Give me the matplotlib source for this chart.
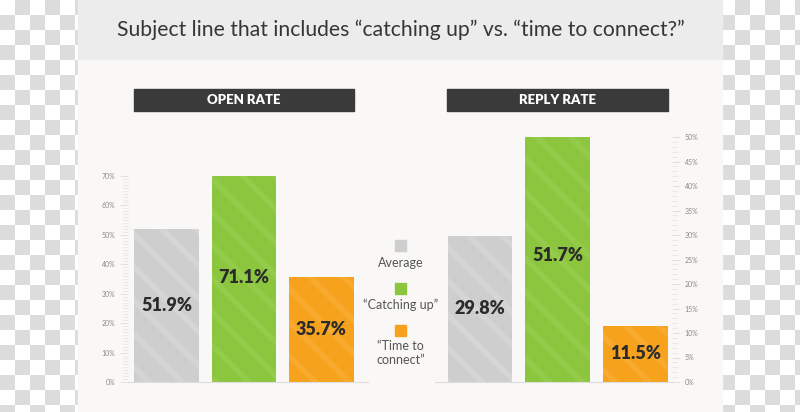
import numpy as np
import matplotlib
matplotlib.use("Agg")
import matplotlib.pyplot as plt
from matplotlib.patches import Rectangle
from matplotlib.ticker import MultipleLocator, FuncFormatter

# data
categories = ["Average", "\u201cCatching up\u201d", "\u201cTime to\nconnect\u201d"]
open_rate = [51.9, 71.1, 35.7]
reply_rate = [29.8, 51.7, 11.5]
panel_titles = ["OPEN RATE", "REPLY RATE"]
title = "Subject line that includes \u201ccatching up\u201d vs. \u201ctime to connect?\u201d"

fills = ["#cecece", "#8cc63f", "#f7a21c"]
stripes = ["#d5d5d5", "#95cb4a", "#f8aa2f"]

W, H = 800, 412
plt.rcParams['font.family'] = ['Lato', 'DejaVu Sans']
plt.rcParams['hatch.linewidth'] = 4.2


def fx(x):
    return x / W


def fy(y):
    return 1 - y / H


fig = plt.figure(figsize=(8, 4.12), dpi=100)

# checkerboard backdrop (transparent png look)
bg = fig.add_axes([0, 0, 1, 1], zorder=-5)
ii, jj = np.indices((int(np.ceil(H / 15)), int(np.ceil(W / 15))))
board = np.where((ii + jj) % 2 == 1, 0.863, 1.0)
bg.imshow(board, cmap="gray", vmin=0, vmax=1, interpolation="nearest",
          extent=[0, board.shape[1] * 15, board.shape[0] * 15, 0])
bg.set_xlim(0, W)
bg.set_ylim(H, 0)
bg.axis("off")

# panel and title band
fig.patches.append(Rectangle((fx(78), fy(412)), fx(644), 353 / H,
                             transform=fig.transFigure, color="#f9f8f6", zorder=1))
fig.patches.append(Rectangle((fx(78), fy(59)), fx(644), 59 / H,
                             transform=fig.transFigure, color="#ececec", zorder=1))
fig.text(fx(401), fy(30), title, ha="center", va="center",
         fontsize=15.2, color="#363636", zorder=3)

# header boxes
for (x0, x1), name in zip([(134, 354), (447, 668)], panel_titles):
    fig.patches.append(Rectangle((fx(x0), fy(111)), fx(x1 - x0), 22 / H,
                                 transform=fig.transFigure, color="#3a3a3a", zorder=2))
    fig.text(fx((x0 + x1) / 2), fy(100.5), name, ha="center", va="center",
             fontsize=9.5, fontweight="heavy", color="white", zorder=3)


def bar_panel(rect, values, ymax, xlim, side):
    ax = fig.add_axes(rect, zorder=5)
    ax.patch.set_alpha(0)
    x = np.arange(len(values))
    for i, v in enumerate(values):
        ax.bar(x[i], v, width=0.835, color=fills[i], edgecolor=stripes[i],
               hatch="\\", linewidth=0, zorder=2)
        ax.text(x[i], v / 2, f"{v}%", ha="center", va="center", fontsize=13,
                fontweight="heavy", color="#2b2b2b", zorder=3)
    ax.set_xlim(*xlim)
    ax.set_ylim(0, ymax)
    for s in ["top", "left", "right"]:
        ax.spines[s].set_visible(False)
    ax.spines["bottom"].set_color("#dedede")
    ax.spines["bottom"].set_linewidth(0.8)
    ax.set_xticks([])
    step = 10 if side == "left" else 5
    ax.yaxis.set_major_locator(MultipleLocator(step))
    ax.yaxis.set_minor_locator(MultipleLocator(1))
    ax.yaxis.set_major_formatter(FuncFormatter(lambda v, p: f"{int(v)}%"))
    ax.yaxis.set_ticks_position(side)
    ax.tick_params(axis="y", which="major", length=6, width=0.6, color="#dcdcdc",
                   labelsize=5, labelcolor="#8a8a8a", pad=3)
    ax.tick_params(axis="y", which="minor", length=3.5, width=0.5, color="#e2e2e2")
    return ax


# left chart: 0% at y=382, 70% at y=176
bar_panel([fx(128), fy(382), fx(368 - 128), 206 / H], open_rate, 70,
          ((128 - 166.5) / 77.5, (368 - 166.5) / 77.5), "left")
# right chart: 0% at y=382, 50% at y=137
bar_panel([fx(435), fy(382), fx(672 - 435), 245 / H], reply_rate, 50,
          ((435 - 480) / 77.75, (672 - 480) / 77.75), "right")

# legend in the middle
sq_y = [240, 283, 325]
txt_y = [263, 305, 353]
for i, lab in enumerate(categories):
    fig.patches.append(Rectangle((fx(395), fy(sq_y[i] + 11)), fx(11), 11 / H,
                                 transform=fig.transFigure, color=fills[i], zorder=3))
    fig.text(fx(400.5), fy(txt_y[i]), lab, ha="center", va="center", fontsize=9,
             color="#555555", linespacing=1.3, zorder=3)

fig.savefig("out.png", dpi=100)
